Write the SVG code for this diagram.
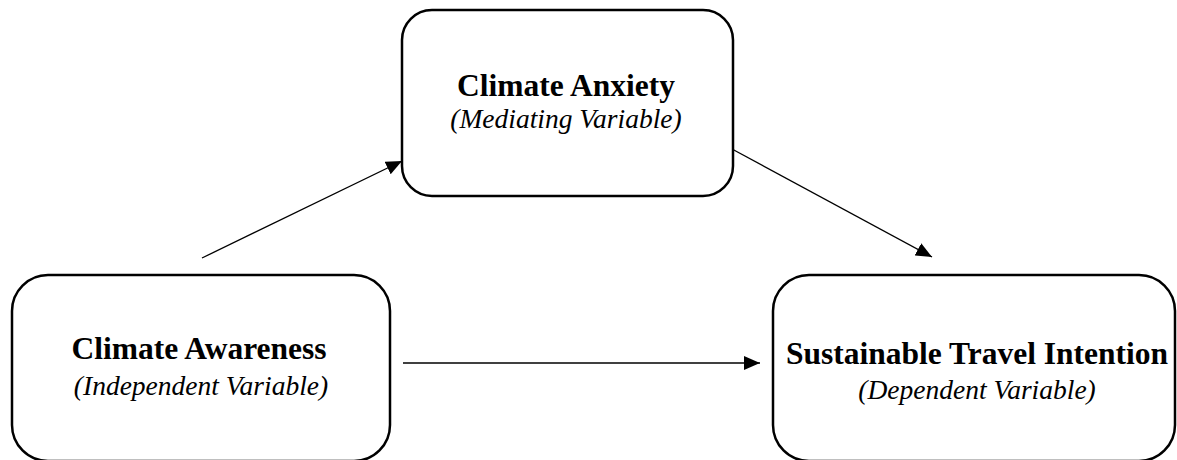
<svg xmlns="http://www.w3.org/2000/svg" width="1177" height="460" viewBox="0 0 1177 460">
<style>
.box{fill:#fff;stroke:#000;stroke-width:2.5}
.t{font-family:"Liberation Serif","Times New Roman",serif;font-size:31.5px;font-weight:bold;text-anchor:middle;fill:#000}
.s{font-family:"Liberation Serif","Times New Roman",serif;font-size:27.5px;font-style:italic;text-anchor:middle;fill:#000}
.c{stroke:#000;stroke-width:1.3;fill:none;marker-end:url(#ah)}
</style>
<defs>
<marker id="ah" markerWidth="16" markerHeight="14" refX="16" refY="7" orient="auto" markerUnits="userSpaceOnUse">
<path d="M0,0 L16,7 L0,14 Z" fill="#000"/>
</marker>
</defs>
<rect width="1177" height="460" fill="#fff"/>
<g id="connectors">
<line class="c" x1="202" y1="258" x2="402" y2="161"/>
<line class="c" x1="732" y1="149" x2="932" y2="257"/>
<line class="c" x1="403" y1="363" x2="760" y2="363"/>
</g>
<g id="node-anxiety">
<rect class="box" x="402" y="10" width="331" height="186" rx="30" ry="30"/>
<text class="t" x="566" y="96">Climate Anxiety</text>
<text class="s" x="566" y="128">(Mediating Variable)</text>
</g>
<g id="node-awareness">
<rect class="box" x="12" y="275" width="378" height="186" rx="36" ry="36"/>
<text class="t" x="199" y="359">Climate Awareness</text>
<text class="s" x="201" y="395">(Independent Variable)</text>
</g>
<g id="node-intention">
<rect class="box" x="773" y="275" width="402" height="186" rx="36" ry="36"/>
<text class="t" x="977" y="364">Sustainable Travel Intention</text>
<text class="s" x="977" y="399">(Dependent Variable)</text>
</g>
</svg>
